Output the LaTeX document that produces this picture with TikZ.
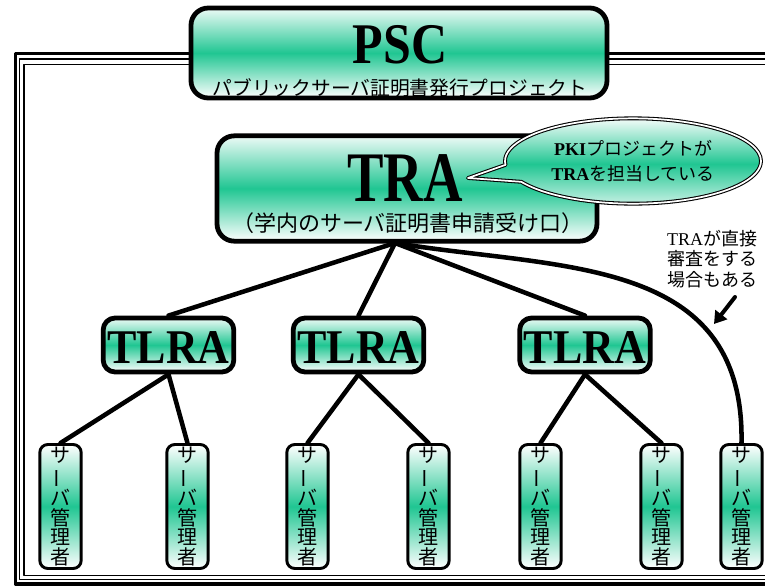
\documentclass[tikz,border=0pt]{standalone}
\usepackage{fontspec}
\setmainfont{Liberation Serif}
\newfontfamily\jp{Noto Sans CJK JP}
\usetikzlibrary{arrows.meta,shapes.callouts}
\definecolor{pscgreen}{RGB}{32,198,146}
\newcommand{\kanri}{サ\\\rotatebox[origin=c]{90}{ー}\\バ\\管\\理\\者}

\begin{document}
\begin{tikzpicture}[x=0.75pt,y=-0.75pt,line cap=round,line join=round,
  gbox/.style={draw=black,line width=3.6pt,rounded corners=13pt,inner sep=0pt,top color=pscgreen!8,bottom color=white,middle color=pscgreen},
  tlrabox/.style={gbox,rounded corners=9pt,minimum width=98pt,minimum height=40.5pt},
  abox/.style={draw=black,line width=2.2pt,rounded corners=6pt,inner sep=0pt,top color=white,bottom color=white,middle color=pscgreen,minimum width=31pt,minimum height=93pt,align=center,font=\jp\fontsize{15}{14.6}\selectfont},
  bigtxt/.style={font=\bfseries,anchor=base,inner sep=0pt,text depth=0pt},
  subtxt/.style={font=\jp\fontsize{#1}{#1}\selectfont,inner sep=0pt},
  link/.style={line width=3.4pt}]
\useasboundingbox (0,0) rectangle (765,586);
% triple frame, open to the right
\draw[line width=2.3pt] (765,53.5) -| (15.5,584) -- (765,584);
\draw[line width=0.8pt] (765,59) -| (19.8,579.5) -- (765,579.5);
\draw[line width=1.4pt] (765,64.5) -| (24,575.5) -- (765,575.5);
% top boxes
\node[gbox,minimum width=312pt,minimum height=67.5pt] (psc) at (399,53) {};
\node[bigtxt] (psctext) at (400,63) {\fontsize{37.5}{40}\selectfont\scalebox{1}[1.15]{PSC}};
\node[subtxt=14.8] (pscsub) at (400,88) {パブリックサーバ証明書発行プロジェクト};
\node[gbox,minimum width=285pt,minimum height=79pt] (tra) at (407,188.5) {};
\node[bigtxt] (tratext) at (405,201) {\fontsize{41}{44}\selectfont\scalebox{1}[1.3]{TRA}};
\node[subtxt=16.5] (trasub) at (408,223) {（学内のサーバ証明書申請受け口）};
\coordinate (tip) at (468,178);
\node[ellipse callout,callout absolute pointer={(tip)},callout pointer arc=24,draw=black,double=white,double distance=1.3pt,line width=0.8pt,top color=pscgreen!5,bottom color=pscgreen!15,middle color=pscgreen,minimum width=192pt,minimum height=64pt,align=center,font=\fontsize{13.5}{19}\selectfont] (bubble) at (633,161) {{\bfseries PKI}{\jp プロジェクトが}\\{\bfseries TRA}{\jp を担当している}};
% TLRA level
\node[tlrabox] (t1) at (168.5,345) {};
\node[tlrabox] (t2) at (358.5,345) {};
\node[tlrabox] (t3) at (585,345) {};
\node[bigtxt] (t1text) at (168.5,363) {\fontsize{33}{36}\selectfont\scalebox{1}[1.1]{TLRA}};
\node[bigtxt] (t2text) at (358.5,363) {\fontsize{33}{36}\selectfont\scalebox{1}[1.1]{TLRA}};
\node[bigtxt] (t3text) at (585,363) {\fontsize{33}{36}\selectfont\scalebox{1}[1.1]{TLRA}};
% server admins
\node[abox] (a1) at (60.5,506.5) {\kanri};
\node[abox] (a2) at (187.5,506.5) {\kanri};
\node[abox] (a3) at (307.5,506.5) {\kanri};
\node[abox] (a4) at (428.5,506.5) {\kanri};
\node[abox] (a5) at (540.5,506.5) {\kanri};
\node[abox] (a6) at (661.5,506.5) {\kanri};
\node[abox] (a7) at (741.5,506.5) {\kanri};
% connectors
\coordinate (hub) at (395,243);
\draw[link] (hub) -- (t1.north);
\draw[link] (hub) -- (t2.north);
\draw[link] (hub) -- (t3.north);
\draw[link] (hub) .. controls (560,270) and (745,255) .. (a7.north);
\draw[link] (t1.south) -- (a1.north);
\draw[link] (t1.south) -- (a2.north);
\draw[link] (t2.south) -- (a3.north);
\draw[link] (t2.south) -- (a4.north);
\draw[link] (t3.south) -- (a5.north);
\draw[link] (t3.south) -- (a6.north);
% note
\node[align=center,font=\fontsize{13.5}{15.5}\selectfont] (note) at (712,259) {TRA{\jp が直接}\\{\jp 審査をする}\\{\jp 場合もある}};
\coordinate (arrtail) at (735,297);
\coordinate (arrtip) at (714,324);
\draw[-{Triangle[length=9pt,width=11pt]},line width=3pt] (arrtail) -- (arrtip);
\end{tikzpicture}
\end{document}
